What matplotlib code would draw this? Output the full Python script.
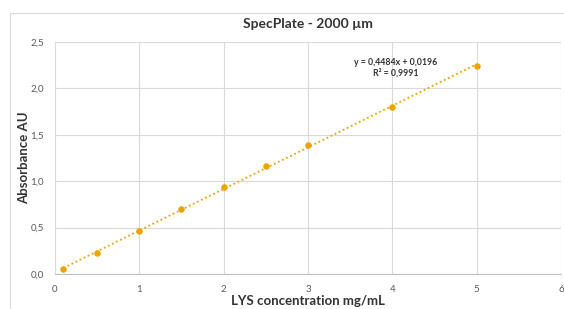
import matplotlib.pyplot as plt
import matplotlib.patches as patches
import numpy as np

plt.rcParams['font.family'] = ['Lato', 'DejaVu Sans']

# LYS concentration (mg/mL) and absorbance (AU)
conc = [0.1, 0.5, 1.0, 1.5, 2.0, 2.5, 3.0, 4.0, 5.0]
absorb = [0.05, 0.23, 0.46, 0.70, 0.94, 1.16, 1.39, 1.80, 2.24]
slope, intercept = 0.4484, 0.0196
x_ticks = [0, 1, 2, 3, 4, 5, 6]
y_ticks = [0.0, 0.5, 1.0, 1.5, 2.0, 2.5]

col = '#EBA400'
grid_col = '#D9D9D9'
txt_col = '#595959'

fig = plt.figure(figsize=(5.64, 3.09), dpi=100)
ax = fig.add_axes([0.0975, 0.1133, 0.8972, 0.7508])

# outer chart border
fig.patches.append(patches.Rectangle((0.0177, -0.05), 1.2, 1.008, transform=fig.transFigure,
                                     fill=False, edgecolor='#D9D9D9', linewidth=0.8))

x_fit = np.array([min(conc), max(conc)])
ax.plot(x_fit, slope * x_fit + intercept, linestyle=(0, (1, 1.5)), color=col, linewidth=1.3, zorder=2)
ax.scatter(conc, absorb, s=22, color=col, zorder=3, linewidths=0)

ax.set_xlim(0, 6)
ax.set_ylim(0, 2.5)
ax.set_xticks(x_ticks)
ax.set_yticks(y_ticks)
ax.set_xticklabels([str(t) for t in x_ticks])
ax.set_yticklabels([f'{t:.1f}'.replace('.', ',') for t in y_ticks])
ax.tick_params(length=0, labelsize=7, colors=txt_col, pad=8)
ax.grid(True, color=grid_col, linewidth=0.8)
ax.set_axisbelow(True)
for s in ['top', 'right', 'left']:
    ax.spines[s].set_visible(False)
ax.spines['bottom'].set_color('#BFBFBF')

ax.set_title('SpecPlate - 2000 µm', fontsize=10, fontweight='bold', color='#333333', pad=10)
ax.set_xlabel('LYS concentration mg/mL', fontsize=9.5, fontweight='bold', color='#333333', labelpad=1)
ax.set_ylabel('Absorbance AU', fontsize=9.5, fontweight='bold', color='#333333', labelpad=0)

ax.text(4.04, 2.28, 'y = 0,4484x + 0,0196', ha='center', va='center', fontsize=6.3,
        fontweight='bold', color='#333333')
ax.text(4.04, 2.165, 'R² = 0,9991', ha='center', va='center', fontsize=6.3,
        fontweight='bold', color='#333333')

fig.savefig('out.png', dpi=100)
